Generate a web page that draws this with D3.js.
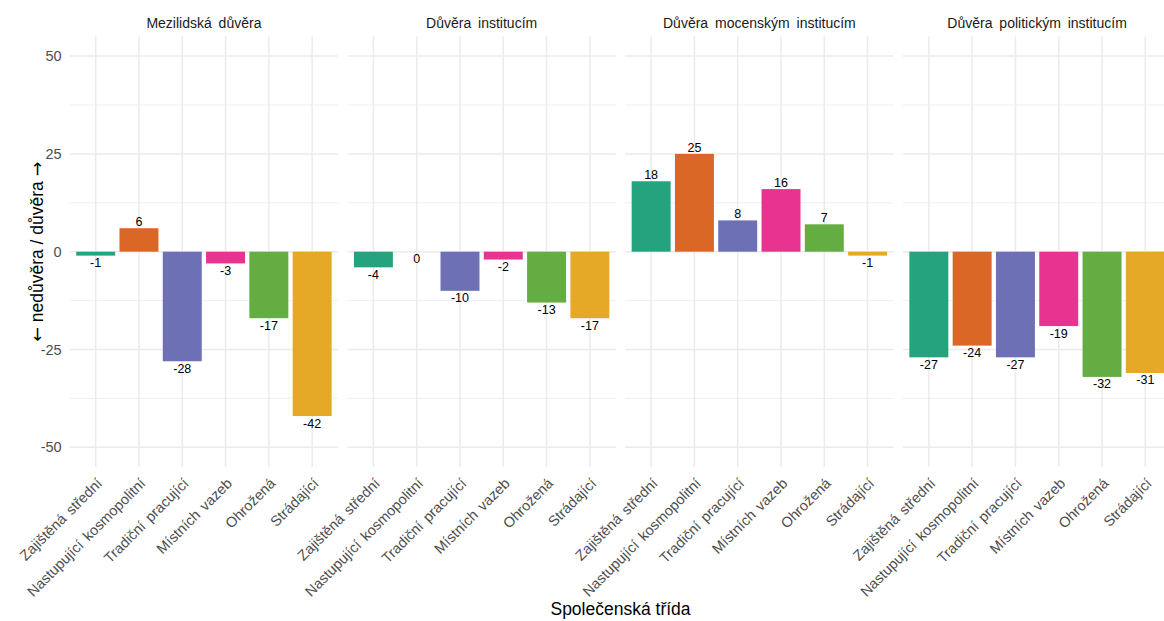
<!DOCTYPE html>
<html>
<head>
<meta charset="utf-8">
<script src="https://cdn.jsdelivr.net/npm/d3@7"></script>
<style>
  html, body { margin: 0; padding: 0; background: #fff; }
  svg { display: block; font-family: "Liberation Sans", Arial, sans-serif; }
</style>
</head>
<body>
<svg id="chart" width="1164" height="621"></svg>
<script>
// ---- data ----
const categories = ["Zajištěná střední", "Nastupující kosmopolitní", "Tradiční pracující", "Místních vazeb", "Ohrožená", "Strádající"];
const facets = ["Mezilidská důvěra", "Důvěra institucím", "Důvěra mocenským institucím", "Důvěra politickým institucím"];
const mezilidskaDuvera = [-1, 6, -28, -3, -17, -42];
const duveraInstitucim = [-4, 0, -10, -2, -13, -17];
const duveraMocenskym = [18, 25, 8, 16, 7, -1];
const duveraPolitickym = [-27, -24, -27, -19, -32, -31];
const colors = ["#25A37E", "#DB6727", "#6E70B5", "#E83390", "#64AD43", "#E5A927"];
const yMajorTicks = [-50, -25, 0, 25, 50];
const yMinorTicks = [-37.5, -12.5, 12.5, 37.5];
const yTitleParts = ["←", " nedůvěra / důvěra ", "→"];
const xTitle = "Společenská třída";

const seriesByFacet = [mezilidskaDuvera, duveraInstitucim, duveraMocenskym, duveraPolitickym];

// ---- layout ----
const svg = d3.select("#chart");
const panelLeft = 69.7, panelRight = 1171.3, panelTop = 36.5, panelBottom = 466.9;

const fScale = d3.scaleBand().domain(facets).range([panelLeft, panelRight]).paddingInner(0.0335).paddingOuter(0);
const y = d3.scaleLinear().domain([-55, 55]).range([panelBottom, panelTop]);

const gridColor = "#ebebeb";

facets.forEach((f, fi) => {
  const x0 = fScale(f), w = fScale.bandwidth();
  const x = d3.scaleBand().domain(categories).range([x0, x0 + w]).paddingInner(0.1).paddingOuter(0.15);
  const g = svg.append("g");

  // minor grid
  g.selectAll("line.minor").data(yMinorTicks).join("line")
    .attr("x1", x0).attr("x2", x0 + w)
    .attr("y1", d => y(d)).attr("y2", d => y(d))
    .attr("stroke", gridColor).attr("stroke-width", 0.8);
  // major grid
  g.selectAll("line.major").data(yMajorTicks).join("line")
    .attr("x1", x0).attr("x2", x0 + w)
    .attr("y1", d => y(d)).attr("y2", d => y(d))
    .attr("stroke", gridColor).attr("stroke-width", 1.5);
  g.selectAll("line.vmajor").data(categories).join("line")
    .attr("x1", d => x(d) + x.bandwidth() / 2).attr("x2", d => x(d) + x.bandwidth() / 2)
    .attr("y1", panelTop).attr("y2", panelBottom)
    .attr("stroke", gridColor).attr("stroke-width", 1.5);

  const data = categories.map((c, i) => ({ c, v: seriesByFacet[fi][i], col: colors[i] }));

  // bars
  g.selectAll("rect.bar").data(data).join("rect")
    .attr("x", d => x(d.c))
    .attr("width", x.bandwidth())
    .attr("y", d => y(Math.max(0, d.v)))
    .attr("height", d => Math.abs(y(d.v) - y(0)))
    .attr("fill", d => d.col);

  // labels
  g.selectAll("text.lab").data(data).join("text")
    .attr("x", d => x(d.c) + x.bandwidth() / 2)
    .attr("y", d => d.v > 0 ? y(d.v) - 2 : y(d.v) + 11.5)
    .attr("text-anchor", "middle")
    .attr("font-size", 12.5)
    .attr("fill", "#000")
    .text(d => String(d.v));

  // strip title
  svg.append("text")
    .attr("x", x0 + w / 2).attr("y", 28.3)
    .attr("text-anchor", "middle")
    .attr("font-size", 14)
    .attr("word-spacing", 3)
    .attr("fill", "#1a1a1a")
    .text(f);

  // x axis labels
  const xAxis = d3.axisBottom(x).tickSize(0).tickPadding(0);
  const ax = svg.append("g").attr("transform", `translate(0,${panelBottom + 10})`).call(xAxis);
  ax.select(".domain").remove();
  ax.selectAll("text")
    .attr("font-size", 14.5)
    .attr("word-spacing", 2)
    .attr("font-family", "Liberation Sans, Arial, sans-serif")
    .attr("fill", "#4d4d4d")
    .attr("text-anchor", "end")
    .attr("dy", "0.72em")
    .attr("y", 0)
    .attr("transform", "rotate(-45)");
});

// y axis (left)
const yAxis = d3.axisLeft(y).tickValues(yMajorTicks).tickSize(0).tickPadding(0).tickFormat(d => String(d));
const ay = svg.append("g").attr("transform", `translate(${panelLeft - 8},0)`).call(yAxis);
ay.select(".domain").remove();
ay.selectAll("text")
  .attr("font-size", 14.5)
  .attr("font-family", "Liberation Sans, Arial, sans-serif")
  .attr("fill", "#4d4d4d");

// axis titles
svg.append("text")
  .attr("x", (panelLeft + panelRight) / 2).attr("y", 615)
  .attr("text-anchor", "middle")
  .attr("font-size", 17.5)
  .attr("fill", "#000")
  .text(xTitle);

const yt = svg.append("text")
  .attr("transform", `translate(43,${(panelTop + panelBottom) / 2}) rotate(-90)`)
  .attr("text-anchor", "middle")
  .attr("font-size", 17.5)
  .attr("fill", "#000");
yt.selectAll("tspan").data(yTitleParts).join("tspan")
  .attr("font-family", (d, i) => i === 1 ? "Liberation Sans, Arial, sans-serif" : "DejaVu Sans, sans-serif")
  .text(d => d);
</script>
</body>
</html>
